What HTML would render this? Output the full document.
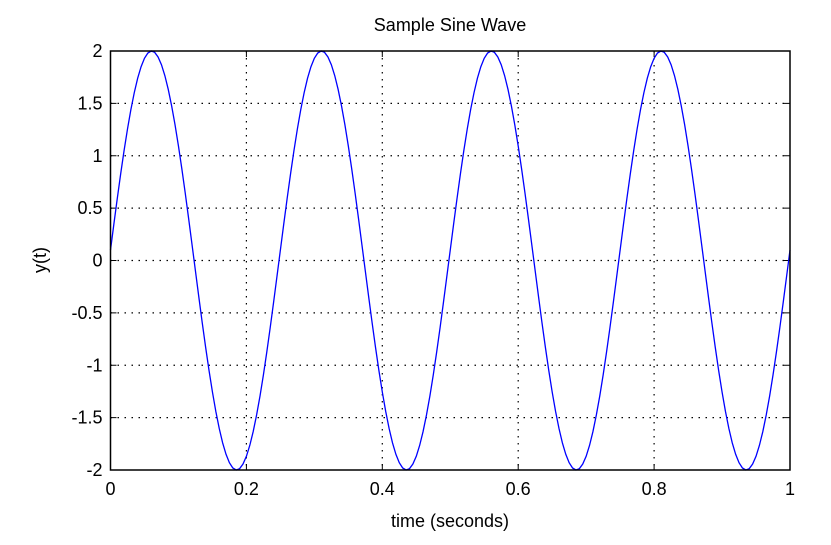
<!DOCTYPE html>
<html><head><meta charset="utf-8"><style>
body{margin:0;background:#fff;}
svg text{font-family:"Liberation Sans",sans-serif;fill:#000;}
</style></head><body>
<svg width="831" height="540" xmlns="http://www.w3.org/2000/svg">
<rect width="831" height="540" fill="#fff"/>
<g id="grid" stroke="#000" stroke-width="1.2" stroke-dasharray="1.5,5.5"></g>
<g id="ticks" stroke="#000" stroke-width="1"></g>
<polyline id="curve" fill="none" stroke="#0000ff" stroke-width="1.3"/>
<rect x="110.5" y="51" width="679.5" height="419" fill="none" stroke="#000" stroke-width="1.5"/>
<g id="labels" font-size="18"></g>
<text x="450" y="31" font-size="18" text-anchor="middle">Sample Sine Wave</text>
<text x="450" y="527" font-size="18" text-anchor="middle">time (seconds)</text>
<text x="0" y="0" font-size="18" text-anchor="middle" transform="translate(46,260) rotate(-90)">y(t)</text>
</svg>
<script>
var L=110.5,R=790,T=51,B=470,ns="http://www.w3.org/2000/svg";
function X(t){return L+(R-L)*t}function Y(v){return T+(B-T)*(2-v)/4}
var g=document.getElementById('grid'),tk=document.getElementById('ticks'),lb=document.getElementById('labels');
function el(p,n,a,txt){var e=document.createElementNS(ns,n);for(var k in a)e.setAttribute(k,a[k]);if(txt)e.textContent=txt;p.appendChild(e);}
var xs=[0,0.2,0.4,0.6,0.8,1],xl=['0','0.2','0.4','0.6','0.8','1'];
xs.forEach(function(t,i){var x=X(t);
 if(i>0&&i<5)el(g,'line',{x1:x,y1:T,x2:x,y2:B});
 el(tk,'line',{x1:x,y1:B,x2:x,y2:B-6});el(tk,'line',{x1:x,y1:T,x2:x,y2:T+6});
 el(lb,'text',{x:x,y:B+25,'text-anchor':'middle'},xl[i]);});
var ys=[2,1.5,1,0.5,0,-0.5,-1,-1.5,-2],yl=['2','1.5','1','0.5','0','-0.5','-1','-1.5','-2'];
ys.forEach(function(v,i){var y=Y(v);
 if(i>0&&i<8)el(g,'line',{x1:L,y1:y,x2:R,y2:y});
 el(tk,'line',{x1:L,y1:y,x2:L+6,y2:y});el(tk,'line',{x1:R,y1:y,x2:R-6,y2:y});
 el(lb,'text',{x:L-8,y:y+6,'text-anchor':'end'},yl[i]);});
var pts=[];for(var i=0;i<=200;i++){var t=i/200;pts.push(X(t).toFixed(2)+','+Y(2*Math.sin(8*Math.PI*t+0.05)).toFixed(2));}
document.getElementById('curve').setAttribute('points',pts.join(' '));
</script>
</body></html>
